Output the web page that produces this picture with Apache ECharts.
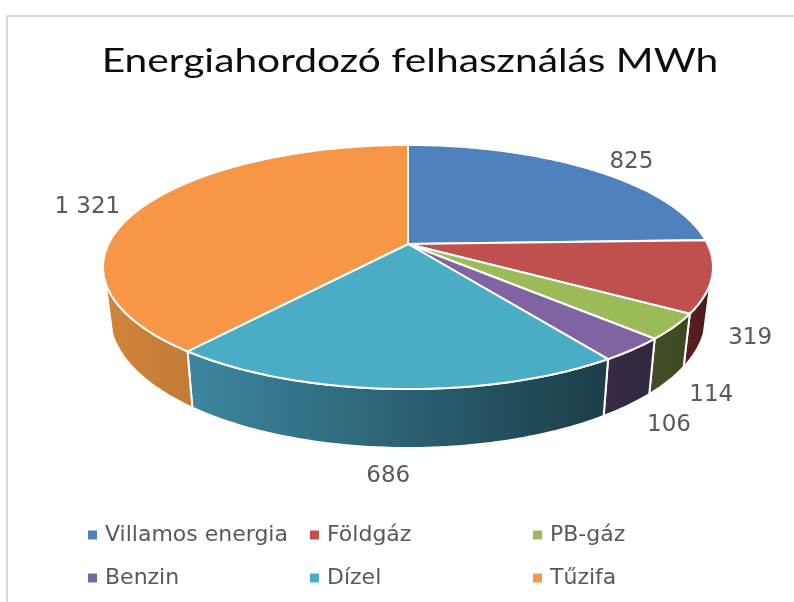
<!DOCTYPE html>
<html>
<head>
<meta charset="utf-8">
<style>
html, body { margin: 0; padding: 0; background: #fff; }
#chart { width: 794px; height: 602px; }
</style>
<script src="https://cdn.jsdelivr.net/npm/echarts@6/dist/echarts.min.js"></script>
</head>
<body>
<div id="chart"></div>
<script>
var categories = ['Villamos energia', 'Földgáz', 'PB-gáz', 'Benzin', 'Dízel', 'Tűzifa'];
var values = [825, 319, 114, 106, 686, 1321];
var valueLabels = ['825', '319', '114', '106', '686', '1 321'];
var topColors = ['#4f81bd', '#c0504d', '#9bbb59', '#8064a2', '#4bacc6', '#f79646'];
// side wall gradient, left to right
var sideColors = [
    ['#2f4d71', '#2f4d71'],
    ['#5e2220', '#451a19'],
    ['#424f25', '#3d4821'],
    ['#382c47', '#30263d'],
    ['#3d87a0', '#1b3d48'],
    ['#d2843a', '#c27a35']
];
// label nudges from the rim point at the middle of each slice
var labelNudge = [[40, -7], [38, 62], [37, 69], [36, 76], [-5, 87], [-55, 0]];

var total = 0;
for (var i = 0; i < values.length; i++) {
    total += values[i];
}

// perspective of the disc
var cx = 408, cy = 244, a = 299.5, b = 117.7, k = 0.1885;
var SIDE_FROM = 108, SIDE_TO = 252;

function topPoint(deg) {
    var t = deg * Math.PI / 180;
    var u = Math.sin(t), v = -Math.cos(t);
    var d = 1 - k * v;
    return [cx + a * u / d, cy + b * v / d];
}

function bottomPoint(deg) {
    var p = topPoint(deg);
    var v = -Math.cos(deg * Math.PI / 180);
    return [cx + (p[0] - cx) * 0.978, p[1] + 47 + 12 * v];
}

function sliceAngles(idx) {
    var start = 0;
    for (var i = 0; i < idx; i++) {
        start += values[i] / total * 360;
    }
    return [start, start + values[idx] / total * 360];
}

function renderSlice(idx) {
    var ang = sliceAngles(idx);
    var children = [];
    var from = Math.max(ang[0], SIDE_FROM), to = Math.min(ang[1], SIDE_TO);
    var d;
    if (to > from) {
        var side = [];
        for (d = from; d < to; d += 1) side.push(topPoint(d));
        side.push(topPoint(to));
        side.push(bottomPoint(to));
        for (d = to - 1; d > from; d -= 1) side.push(bottomPoint(d));
        side.push(bottomPoint(from));
        children.push({
            type: 'polygon',
            shape: { points: side },
            style: {
                fill: new echarts.graphic.LinearGradient(0, 0, 1, 0, [
                    { offset: 0, color: sideColors[idx][0] },
                    { offset: 1, color: sideColors[idx][1] }
                ]),
                stroke: '#fff',
                lineWidth: 2
            }
        });
    }
    var wedge = [[cx, cy]];
    for (d = ang[0]; d < ang[1]; d += 1) wedge.push(topPoint(d));
    wedge.push(topPoint(ang[1]));
    children.push({
        type: 'polygon',
        shape: { points: wedge },
        style: { fill: topColors[idx], stroke: '#fff', lineWidth: 2 }
    });
    var mid = topPoint((ang[0] + ang[1]) / 2);
    children.push({
        type: 'text',
        style: {
            x: mid[0] + labelNudge[idx][0],
            y: mid[1] + labelNudge[idx][1],
            text: valueLabels[idx],
            fill: '#595959',
            font: '23px "DejaVu Sans"',
            align: 'center',
            verticalAlign: 'middle'
        }
    });
    return { type: 'group', children: children };
}

var series = [];
categories.forEach(function (name, idx) {
    series.push({
        type: 'custom',
        name: name,
        coordinateSystem: 'none',
        silent: true,
        animation: false,
        itemStyle: { color: topColors[idx] },
        data: [values[idx]],
        renderItem: function () {
            return renderSlice(idx);
        }
    });
});

function legendColumn(left, names) {
    return {
        orient: 'vertical',
        left: left,
        top: 519,
        data: names,
        icon: 'rect',
        itemWidth: 9,
        itemHeight: 9,
        itemGap: 21,
        selectedMode: false,
        textStyle: { color: '#595959', fontSize: 22, fontFamily: 'DejaVu Sans', padding: [0, 0, 0, 3] }
    };
}

var chart = echarts.init(document.getElementById('chart'));
chart.setOption({
    animation: false,
    backgroundColor: '#fff',
    legend: [
        legendColumn(83, [categories[0], categories[3]]),
        legendColumn(305, [categories[1], categories[4]]),
        legendColumn(528, [categories[2], categories[5]])
    ],
    graphic: [{
        type: 'polyline',
        shape: { points: [[7, 602], [7, 16], [794, 16]] },
        style: { stroke: '#d9d9d9', lineWidth: 2, fill: null }
    }, {
        // the title is stretched sideways in the original
        type: 'text',
        x: 410,
        y: 61,
        scaleX: 1.234,
        style: {
            text: 'Energiahordozó felhasználás MWh',
            fill: '#0d0d0d',
            font: '33px Lato',
            align: 'center',
            verticalAlign: 'middle'
        }
    }],
    series: series
});
</script>
</body>
</html>
